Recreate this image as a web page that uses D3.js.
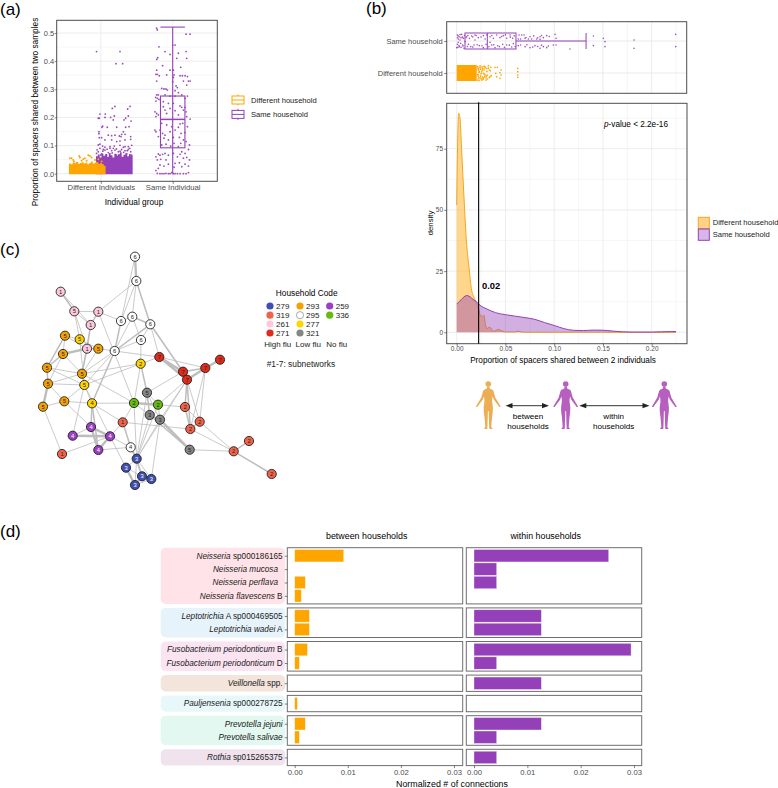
<!DOCTYPE html>
<html><head><meta charset="utf-8">
<style>
html,body{margin:0;padding:0;background:#fff}
svg{display:block;font-family:"Liberation Sans",Arial,sans-serif}
</style>
<script src="https://cdnjs.cloudflare.com/ajax/libs/d3/7.8.5/d3.min.js"></script>
</head><body><div id="c"></div>
<script>
// ---------- DATA ----------
const groupsA = ["Different Individuals","Same Individual"];
const householdNames = ["Different household","Same household"];
// panel (a): pairs of [horizontal jitter, proportion]
const sameIndividualPoints = [[-.223,.517],[-.214,.511],[.186,.496],[.242,.496],[0,.457],[.033,.457],[-.191,.451],[-.107,.434],[.079,.428],[.186,.434],[-.037,.424],[-.223,.406],[-.209,.412],[.056,.41],[.195,.41],[-.14,.384],[.112,.378],[.009,.368],[-.223,.368],[-.037,.368],[-.233,.353],[-.214,.353],[-.186,.348],[-.084,.351],[.019,.351],[.102,.348],[.135,.348],[.172,.348],[.205,.345],[.009,.342],[0,.327],[-.223,.329],[.149,.329],[.219,.329],[.242,.329],[.195,.315],[.047,.312],[.065,.306],[-.153,.303],[-.121,.301],[-.093,.301],[-.074,.297],[.033,.295],[.079,.288],[-.223,.28],[-.2,.28],[-.237,.271],[-.214,.268],[-.191,.264],[-.233,.258],[-.107,.28],[-.037,.276],[.033,.276],[.126,.28],[.172,.268],[.205,.276],[-.13,.256],[-.06,.25],[.009,.25],[.102,.241],[.126,.236],[.172,.236],[.149,.226],[.186,.22],[-.247,.22],[-.223,.214],[-.2,.209],[-.233,.203],[.195,.203],[-.13,.238],[-.107,.226],[-.084,.214],[-.037,.232],[.033,.224],[.079,.209],[.242,.194],[-.153,.179],[-.084,.173],[-.014,.167],[.102,.177],[.14,.179],[-.247,.155],[-.233,.149],[-.177,.155],[-.14,.143],[-.107,.137],[-.037,.149],[.033,.155],[.079,.165],[.116,.143],[.172,.146],[.205,.167],[-.2,.132],[-.121,.126],[-.06,.12],[.009,.129],[.093,.129],[.149,.12],[.186,.114],[.112,.108],[.233,.102],[-.153,.102],[-.093,.105],[-.028,.098],[.019,.108],[.079,.096],[.219,.086],[.126,.078],[.172,.072],[-.2,.07],[-.177,.066],[-.14,.069],[-.107,.072],[-.06,.066],[.009,.072],[.065,.06],[.102,.069],[-.233,.06],[-.214,.049],[-.167,.051],[-.093,.049],[.149,.055],[.195,.058],[.233,.049],[-.177,.031],[-.121,.027],[-.06,.034],[.033,.037],[.093,.039],[.126,.025],[.172,.034],[.219,.027],[-.2,.019],[.019,.023],[-.233,.011],[-.214,.001],[-.177,0],[-.149,0],[-.121,0],[-.093,.001],[-.06,0],[-.037,0],[-.014,.004],[.009,0],[.033,0],[.065,0],[.102,0],[.149,0],[.186,0],[.219,.004]];
const diffIndividualSameHouseholdPoints = [[-.247,.434],[.079,.434],[.023,.391],[.116,.391],[.009,.239],[-.028,.232],[.219,.239],[.186,.23],[-.2,.212],[-.126,.212],[-.223,.197],[-.209,.197],[-.13,.2],[-.051,.2],[0,.205],[-.014,.191],[.195,.205],[.158,.197],[.135,.191],[.233,.187],[-.163,.169],[-.098,.165],[-.172,.165],[.033,.165],[.158,.165],[.205,.167],[-.214,.149],[-.214,.142],[-.084,.137],[-.037,.135],[-.177,.128],[-.209,.128],[-.13,.12],[-.037,.12],[.033,.114],[.079,.116],[.102,.14],[.126,.149],[.149,.14],[.093,.132],[.228,.132],[.228,.122],[.149,.12],[.07,.134],[.009,.137],[-.2,.105],[-.163,.098],[-.223,.102],[-.13,.094],[-.06,.096],[0,.098],[.079,.101],[.149,.096],[.195,.096],[.242,.101],[-.2,.09],[-.014,.09],[-.223,.078],[-.177,.07],[-.13,.084],[-.084,.075],[-.037,.082],[.009,.084],[.056,.078],[.102,.086],[.149,.082],[.195,.086],[.228,.078],[-.247,.072],[-.191,.066],[-.107,.066],[.033,.066],[.172,.07],[.242,.066],[-.06,.09],[.126,.094],[-.153,.086],[-.24,.085],[-.16,.08],[-.1,.087],[-.03,.074],[.03,.088],[.08,.08],[.13,.076],[.18,.082],[.215,.09]];
const diffHouseholdPoints = [[-.242,.055],[-.219,.055],[-.195,.049],[-.112,.063],[-.102,.058],[-.056,.051],[-.033,.055],[.014,.066],[.037,.063],[.06,.058],[-.186,.043],[-.149,.039],[-.079,.046],[-.009,.046],[.107,.049],[.13,.039],[.153,.051],[.2,.043],[.214,.031]];
const diffHouseholdEnvelope = [.036,.034,.04,.037,.042,.035,.038,.041,.036,.04,.034,.038,.043,.036,.039,.041,.035,.038,.033,.028];
const diffIndSameHouseholdEnvelope = [.062,.068,.058,.072,.064,.07,.06,.074,.066,.058,.071,.063,.069,.076,.06,.067,.073,.062,.07,.064];
const sameIndividualBox = {q1:.092,median:.193,q3:.276,low:0,high:.521};
// panel (b) strip: pairs of [proportion, vertical jitter]
const sameHouseholdStrip = [[.0639,.1875],[.0667,.1875],[.0691,.1875],[.0752,.135],[.0769,.0625],[.0821,.0625],[.0855,.135],[.0889,.104],[.0923,.167],[.1009,.208],[.1019,.083],[.0632,.0625],[.0656,.0625],[.0701,.083],[.0735,.0625],[.0855,.052],[.0632,-.146],[.0656,-.125],[.0701,-.177],[.0752,-.208],[.0803,-.146],[.0855,-.229],[.0889,-.177],[.0923,-.208],[.0991,-.125],[.1019,-.125],[.1162,-.25],[.1402,.156],[.1402,-.146],[.1504,.083],[.1521,-.021],[.1521,-.177],[.1819,.031],[.1819,-.229],[.2246,.208],[.2246,-.177],[.0103,.135],[.013,.083],[.0154,.156],[.0188,.1875],[.0222,.104],[.0274,.167],[.0291,.0625],[.0342,.135],[.0376,.083],[.041,.1875],[.0444,.104],[.0479,.167],[.0513,.083],[.0547,.1875],[.0574,.083],[.012,-.104],[.0144,-.177],[.0178,-.125],[.0232,-.146],[.0274,-.208],[.0301,-.104],[.0359,-.125],[.0393,-.208],[.0438,-.177],[.0472,-.104],[.0513,-.125],[.0564,-.1875],[.0581,-.083],[.0007,.1875],[.0027,.135],[.0051,.208],[.0068,.083],[.0017,.0625],[.0044,.104],[.0007,-.104],[.0027,-.177],[.0062,-.125],[0,-.208],[.0075,-.229],[.0041,-.073],[.0017,-.042],[.0034,.031],[.0085,-.021],[.0188,.031],[.0342,-.042],[.0015,.16],[.0035,.2],[.006,.12],[.0008,.1],[.0024,-.14],[.0045,-.2],[.0065,-.16],[.0012,-.2],[.008,.17],[.0095,.1],[.0115,.17],[.0165,.125],[.02,.17],[.025,.125],[.031,.19],[.036,.17],[.046,.14],[.05,.19],[.055,.12],[.059,.16],[.011,-.17],[.0165,-.19],[.021,-.115],[.026,-.15],[.033,-.18],[.038,-.12],[.042,-.15],[.049,-.2],[.054,-.13],[.06,-.17],[.071,.11],[.079,.16],[.083,.1],[.087,.17],[.095,.14],[.072,-.12],[.078,-.19],[.083,-.17],[.087,-.13],[.094,-.16]];
const diffHouseholdStrip = [[.0178,.198],[.0198,.094],[.0222,-.0625],[.0239,.167],[.0256,.042],[.0274,-.167],[.0291,.198],[.0308,.146],[.0325,.229],[.0335,.094],[.0315,-.0625],[.0342,-.115],[.0301,-.219],[.0256,-.219],[.0212,-.219],[.0232,.042],[.0274,-.01],[.0239,-.146],[.0393,.177],[.0417,.177],[.04,-.01],[.0444,.01],[.0455,.094],[.041,-.115],[.0444,-.167],[.0455,-.0625],[.0626,.146],[.0626,.042],[.0626,-.0625],[.0626,-.135],[.0222,.125],[.0291,-.0625],[.0315,-.1875],[.0267,.146],[.0215,.2],[.022,.15],[.0225,.08],[.023,.02],[.0215,-.05],[.022,-.11],[.0225,-.17],[.023,-.23],[.024,.22],[.0245,.12],[.025,-.02],[.0245,-.09],[.025,-.18],[.026,.19],[.0265,.09],[.0265,-.13],[.027,-.2],[.028,.21],[.028,.1],[.0285,-.04],[.0285,-.12],[.029,.16],[.03,-.15],[.031,.05],[.0305,-.1],[.0325,.15],[.0335,-.14],[.035,.18],[.0345,.07],[.0355,-.08]];
const diffHouseholdStripSolidMax = .0205;
const sameHouseholdBox = {q1:.0085,median:.0314,q3:.0608,high:.1327};
const cutoffValue = .0225;
// panel (b) densities
const differentDensityX = [0,.001,.002,.0035,.005,.0075,.01,.0125,.015,.0175,.02,.0225,.024,.0265,.028,.0295,.031,.033,.035,.037,.04,.042,.045,.05,.06,.0625,.065,.07,.1,.15,.225];
const differentDensityY = [52,78,89.5,87,75,55,37,27,18,14.5,12.3,9.5,7,6.5,7,3,1.5,2,1.8,.4,.7,1.2,.8,.1,.1,.5,.2,0,0,0,0];
const sameDensityX = [0,.005,.01,.0125,.015,.02,.025,.03,.04,.05,.06,.07,.08,.09,.10,.11,.12,.13,.14,.15,.16,.17,.18,.19,.2,.21,.22,.225];
const sameDensityY = [11.5,13.5,15,14.8,14,12.5,10.7,9.7,8,7.2,6.6,6,5.3,4,2.8,1.5,.8,.7,.9,.85,.5,.2,.1,.1,.1,.2,.3,.3];
// panel (c) network, layout units
const householdCodes = ["279","319","261","271","293","295","277","321","259","336"];
const householdColors = ["#3F4FB0","#F0624A","#FFC8DC","#E02A1A","#F5A100","#FFFFFF","#FFD500","#868686","#9B3FC4","#66BB0F"];
const fluGroups = ["High flu","Low flu","No flu"];
const nodes = [
["w1","295","6",95,11.7],["w2","295","6",96.3,36],["w3","295","6",81,76],["w4","295","6",92.3,71.7],["w5","295","6",110.3,79.3],["w6","295","6",101,95],["w7","295","6",74.7,106],
["p1","261","1",20.7,46.7],["p2","261","5",34.3,66.3],["p3","261","1",58.3,66.7],["p4","261","1",50.7,80],["p5","261","1",47,103.7],
["o1","293","5",25,90.7],["o2","293","5",23,109],["o3","293","5",58.3,103.7],["o4","293","5",7,122.7],["o5","293","5",42,128.7],["o6","293","5",8,138.7],["o7","293","5",24.3,156.3],["o8","293","5",3,161.7],
["y1","277","5",39.7,94.3],["y2","277","2",100.7,118.7],["y3","277","5",44.3,140],["y4","277","4",52,158.3],
["r1","271","7",119.3,112],["r2","271","7",143,126.7],["r3","271","7",147,134.7],["r4","271","7",165.3,123],["r5","271","7",180,114.7],
["g1","321","5",107,147.7],["g2","321","3",109.7,170],["g3","321","3",120,174.7],["g4","321","5",149.7,204.7],
["v1","336","2",94,158],["v2","336","2",118,159.7],
["c1","319","2",145,162],["c2","319","2",159.7,176.7],["c3","319","2",150.3,184],["c4","319","2",209,196],["c5","319","2",193.7,206.3],["c6","319","2",231.7,229],["c7","319","1",82.7,177.3],["c8","319","1",22,209],
["u1","259","4",32.7,190.7],["u2","259","4",51,182],["u3","259","4",70,191.3],["u4","259","4",58.3,205],
["w8","295","4",90.7,202.3],
["b1","279","3",96.7,213.7],["b2","279","3",86,222.7],["b3","279","3",102,231.3],["b4","279","3",111.3,234],["b5","279","3",95,240]];
const links = [["w1","w2",3],["w1","w3",1],["w2","w3",1],["w2","w5",2],["w2","w4",1],["w2","p3",1],["w3","w4",1],["w4","w5",2],["w3","w7",2],["w3","p3",1],["w4","w7",1],["w5","w7",2],["w5","r1",1],["w6","w7",1],["w6","w4",1],["w6","y2",1],["w5","w6",1],["w7","o3",1],["w7","r1",1],["w7","o5",1],["w7","y4",2],["w7","y3",1],
["p1","p2",2],["p1","p4",1],["p2","p3",1],["p2","p4",1],["p2","p5",1],["p3","p4",2],["p4","p5",2],["p4","o5",1],["p5","o5",2],["p3","v1",1],["p5","o2",3],["p5","o1",1],["p2","y1",1],["o1","y1",1],["o1","o2",1],["o1","o4",2],["o2","o4",2],["o2","o5",1],["o2","o6",1],["o4","o6",2],["o4","o5",1],["o5","o6",1],["o6","o8",3],["o6","o7",1],["o7","o8",1],["o6","y3",1],["o5","y3",2],["y3","o7",1],["y3","y4",1],["o4","y3",1],["o7","y4",1],["o3","y1",1],["o3","p5",2],["o3","o5",1],["o5","y2",1],["y3","y2",1],["o8","c8",1],["o7","u2",1],["y3","u3",1],["y1","y3",1],["y3","u1",1],["y4","u2",2],["y4","u4",2],["u1","u2",1],["u1","u3",3],["u2","u3",3],["u2","u4",3],["u3","u4",3],["c8","u3",1],["u3","w8",1],["u3","c7",1],["u4","w8",1],["u3","b2",1],["w8","b1",2],["c7","w8",2],["c7","v1",1],["c7","c3",1],["o5","v1",1],["y2","g1",2],["y2","v1",1],
["r1","r2",3],["r1","r3",3],["r2","r4",2],["r3","r4",3],["r2","r3",2],["r4","r5",3],["r1","r4",1],["r3","c1",2],["r3","c3",2],["r3","c2",1],["r4","c2",1],["c1","c2",1],["c1","c3",2],["c2","c3",2],["c2","c5",1],["c3","c5",1],["c4","c5",2],["c5","c6",2],["g4","c5",1],["g3","g4",3],["g2","g4",2],["g1","g2",2],["g1","g3",1],["g2","g3",2],["g1","v2",1],["v1","v2",3],["v1","g2",1],["v2","g3",1],["v1","b1",1],["v2","b1",1],["v2","c1",1],["r3","v2",1],["r3","g3",1],["r2","g1",1],["r3","b1",1],["g3","b1",1],["g3","b4",1],["g2","b1",1],["g1","b1",1],["y4","v1",1],["y4","c7",1],["w5","r2",2],["r1","y2",1],["b1","b2",1],["b1","b3",2],["b1","b4",1],["b2","b3",1],["b2","b5",3],["b3","b4",2],["b3","b5",2],["b4","b5",1],["b1","b5",1],["w8","b3",1],["r4","c3",1]];
// panel (d)
const speciesItalic = ["Neisseria","Neisseria mucosa","Neisseria perflava","Neisseria flavescens","Leptotrichia","Leptotrichia wadei","Fusobacterium periodonticum","Fusobacterium periodonticum","Veillonella","Pauljensenia","Prevotella jejuni","Prevotella salivae","Rothia"];
const speciesPlain = [" sp000186165","\u00a0\u00a0"," \u00a0"," B"," A sp000469505"," A"," B"," D"," spp."," sp000278725","","", " sp015265375"];
const speciesFacet = [0,0,0,0,1,1,2,2,3,4,5,5,6];
const betweenValues = [.00923,0,.002,.00125,.00276,.00276,.0024,.00088,0,.0005,.002,.00088,0];
const withinValues = [.02525,.00425,.00425,0,.01263,.01263,.02945,.00425,.01263,0,.01263,.00425,.00425];
const facetColors = ["#FFE3E8","#E6F3FB","#FBE4F2","#F3E4DC","#E8F8FA","#E2F8F0","#F0E3EE"];

// ---------- HELPERS ----------
const ORANGE="#FFA500", PURPLE="#9440B8";
const W=778,H=788;
const svg=d3.select("#c").append("svg").attr("width",W).attr("height",H).attr("viewBox",`0 0 ${W} ${H}`);
function styleAxis(g,size=7){
  g.selectAll(".domain").remove();
  g.selectAll("line").attr("stroke","#333").attr("stroke-width",.6);
  g.selectAll("text").attr("fill","#4d4d4d").style("font-size",size+"px").style("font-family","inherit");
}
function text(x,y,s,o={}){
  const t=svg.append("text").attr("x",x).attr("y",y).text(s).attr("font-size",o.size||8).attr("fill",o.fill||"#000");
  if(o.anchor)t.attr("text-anchor",o.anchor);
  if(o.weight)t.attr("font-weight",o.weight);
  if(o.rotate!=null)t.attr("transform",`rotate(${o.rotate} ${x} ${y})`);
  return t;
}
function grid(g,x0,x1,y0,y1,xs,ys,color,w){
  xs.forEach(v=>g.append("line").attr("x1",v).attr("x2",v).attr("y1",y0).attr("y2",y1).attr("stroke",color).attr("stroke-width",w));
  ys.forEach(v=>g.append("line").attr("y1",v).attr("y2",v).attr("x1",x0).attr("x2",x1).attr("stroke",color).attr("stroke-width",w));
}
function frame(x0,x1,y0,y1,c="#4d4d4d",w=1){
  svg.append("rect").attr("x",x0).attr("y",y0).attr("width",x1-x0).attr("height",y1-y0).attr("fill","none").attr("stroke",c).attr("stroke-width",w);
}
function dots(g,data,xf,yf,color,r=.9,op=.95){
  g.selectAll(null).data(data).join("circle").attr("cx",xf).attr("cy",yf).attr("r",r).attr("fill",color).attr("opacity",op);
}
function boxGlyph(g,x,yc,hw,hh,color){
  g.append("rect").attr("x",x).attr("y",yc-hh).attr("width",hw).attr("height",2*hh).attr("fill","#fff").attr("stroke",color).attr("stroke-width",1);
  g.append("line").attr("x1",x).attr("x2",x+hw).attr("y1",yc).attr("y2",yc).attr("stroke",color).attr("stroke-width",1);
  g.append("line").attr("x1",x+hw/2).attr("x2",x+hw/2).attr("y1",yc-hh-1.5).attr("y2",yc-hh).attr("stroke",color).attr("stroke-width",1);
  g.append("line").attr("x1",x+hw/2).attr("x2",x+hw/2).attr("y1",yc+hh).attr("y2",yc+hh+1.5).attr("stroke",color).attr("stroke-width",1);
}

// ---------- PANEL LABELS ----------
text(0,15,"(a)",{size:17});
text(366,14,"(b)",{size:17});
text(0,255,"(c)",{size:17});
text(0,537,"(d)",{size:17});

// ---------- PANEL A ----------
(function(){
  const L=56.7,R=217.3,T=20.3,B=181.3;
  const x=d3.scaleLinear().domain([1,2]).range([100.8,172.7]);
  const y=d3.scaleLinear().domain([0,.5]).range([173.7,33]);
  const g=svg.append("g");
  grid(g,L,R,T,B,[],d3.range(.05,.55,.1).map(y),"#f2f2f2",.6);
  grid(g,L,R,T,B,[1,2].map(x),[0,.1,.2,.3,.4,.5].map(y),"#e8e8e8",.8);
  const dodge=.188, half=.255;
  const binX=(center)=>d3.scaleLinear().domain([0,20]).range([center-half,center+half]);
  const area=(env,c)=>{
    const bx=binX(c);
    const extended=env.concat([env[env.length-1]]);
    return d3.area().curve(d3.curveStepAfter).x((d,i)=>x(bx(i))).y0(y(-.002)).y1(d=>y(d))(extended);
  };
  g.append("path").attr("d",area(diffIndSameHouseholdEnvelope,1+dodge)).attr("fill",PURPLE);
  dots(g,diffIndividualSameHouseholdPoints,d=>x(1+dodge+d[0]),d=>y(d[1]),PURPLE);
  g.append("path").attr("d",area(diffHouseholdEnvelope,1-dodge)).attr("fill",ORANGE);
  dots(g,diffHouseholdPoints,d=>x(1-dodge+d[0]),d=>y(d[1]),ORANGE,1,1);
  dots(g,sameIndividualPoints,d=>x(2+d[0]),d=>y(d[1]),PURPLE);
  const b=sameIndividualBox, hw=.17, c=PURPLE;
  const bg=g.append("g").attr("stroke",c).attr("stroke-width",1.1).attr("fill","none");
  bg.append("rect").attr("x",x(2-hw)).attr("width",x(2+hw)-x(2-hw)).attr("y",y(b.q3)).attr("height",y(b.q1)-y(b.q3));
  bg.append("line").attr("x1",x(2-hw)).attr("x2",x(2+hw)).attr("y1",y(b.median)).attr("y2",y(b.median)).attr("stroke-width",1.5);
  bg.append("line").attr("x1",x(2)).attr("x2",x(2)).attr("y1",y(b.high)).attr("y2",y(b.low));
  bg.append("line").attr("x1",x(2-hw)).attr("x2",x(2+hw)).attr("y1",y(b.high)).attr("y2",y(b.high));
  frame(L,R,T,B);
  const ay=svg.append("g").attr("transform",`translate(${L},0)`).call(d3.axisLeft(y).tickValues([0,.1,.2,.3,.4,.5]).tickFormat(d3.format(".1f")).tickSize(2).tickPadding(.5));
  styleAxis(ay,7.5);
  const ax=svg.append("g").attr("transform",`translate(0,${B})`).call(d3.axisBottom(x).tickValues([1,2]).tickFormat(d=>groupsA[d-1]).tickSize(2.5).tickPadding(.8));
  styleAxis(ax,7.7);
  text(134,204.5,"Individual group",{anchor:"middle",size:8.3});
  text(37.5,112,"Proportion of spacers shared between two samples",{anchor:"middle",size:8.3,rotate:-90});
  boxGlyph(svg,232,100,12,4,ORANGE);
  boxGlyph(svg,232,114.4,12,4,PURPLE);
  text(251,102.7,householdNames[0],{size:7.6,fill:"#222"});
  text(251,117,householdNames[1],{size:7.6,fill:"#222"});
})();

// ---------- PANEL B ----------
const xB=d3.scaleLinear().domain([0,.2]).range([456.7,651.7]);
(function(){
  const L=446.7,R=686.7,T=21.7,B=93.3;
  const y=d3.scaleLinear().domain([0,1]).range([73,41]); // 0 different, 1 same
  const g=svg.append("g");
  const minor=[.025,.075,.125,.175,.225].map(xB), major=[0,.05,.1,.15,.2].map(xB);
  grid(g,L,R,T,B,minor,[],"#efefef",.7);
  grid(g,L,R,T,B,major,[0,1].map(y),"#e6e6e6",.8);
  g.append("rect").attr("x",xB(0)).attr("width",xB(diffHouseholdStripSolidMax)-xB(0)).attr("y",y(.25)).attr("height",y(-.25)-y(.25)).attr("fill",ORANGE);
  dots(g,diffHouseholdStrip,d=>xB(d[0]),d=>y(0+d[1]),ORANGE,.85,1);
  dots(g,sameHouseholdStrip,d=>xB(d[0]),d=>y(1+d[1]),PURPLE,.8,.9);
  const b=sameHouseholdBox, h=.25;
  const bg=g.append("g").attr("stroke",PURPLE).attr("stroke-width",1).attr("fill","none");
  bg.append("rect").attr("x",xB(b.q1)).attr("width",xB(b.q3)-xB(b.q1)).attr("y",y(1+h)).attr("height",y(1-h)-y(1+h));
  bg.append("line").attr("x1",xB(b.median)).attr("x2",xB(b.median)).attr("y1",y(1+h)).attr("y2",y(1-h));
  bg.append("line").attr("x1",xB(b.q3)).attr("x2",xB(b.high)).attr("y1",y(1)).attr("y2",y(1));
  bg.append("line").attr("x1",xB(b.high)).attr("x2",xB(b.high)).attr("y1",y(1+h)).attr("y2",y(1-h));
  frame(L,R,T,B);
  const ay=svg.append("g").attr("transform",`translate(${L},0)`).call(d3.axisLeft(y).tickValues([0,1]).tickFormat(d=>householdNames[d]).tickSize(2.5).tickPadding(1.5));
  styleAxis(ay,7.5);
})();
(function(){
  const L=446.7,R=687,T=103.3,B=343.7;
  const y=d3.scaleLinear().domain([0,75]).range([332.3,148.7]);
  const g=svg.append("g");
  grid(g,L,R,T,B,[.025,.075,.125,.175,.225].map(xB),[12.5,37.5,62.5,87.5].map(y),"#f2f2f2",.7);
  grid(g,L,R,T,B,[0,.05,.1,.15,.2].map(xB),[0,25,50,75].map(y),"#e8e8e8",.8);
  const area=(xs,ys)=>d3.area().curve(d3.curveMonotoneX).x((d,i)=>xB(xs[i])).y0(y(0)).y1(d=>y(d))(ys);
  const line=(xs,ys)=>d3.line().curve(d3.curveMonotoneX).x((d,i)=>xB(xs[i])).y(d=>y(d))(ys);
  g.append("path").attr("d",area(differentDensityX,differentDensityY)).attr("fill","#FFAE1A").attr("fill-opacity",.5);
  g.append("path").attr("d",line(differentDensityX,differentDensityY)).attr("fill","none").attr("stroke","#F2A71B").attr("stroke-width",1);
  g.append("path").attr("d",area(sameDensityX,sameDensityY)).attr("fill",PURPLE).attr("fill-opacity",.42);
  g.append("path").attr("d",line(sameDensityX,sameDensityY)).attr("fill","none").attr("stroke",PURPLE).attr("stroke-width",1);
  frame(L,R,T,B);
  svg.append("line").attr("x1",xB(cutoffValue)).attr("x2",xB(cutoffValue)).attr("y1",T-1).attr("y2",B).attr("stroke","#000").attr("stroke-width",1.1);
  const ay=svg.append("g").attr("transform",`translate(${L},0)`).call(d3.axisLeft(y).tickValues([0,25,50,75]).tickSize(2.5).tickPadding(1.2));
  styleAxis(ay,6.5);
  const ax=svg.append("g").attr("transform",`translate(0,${B})`).call(d3.axisBottom(xB).tickValues([0,.05,.1,.15,.2]).tickFormat(d3.format(".2f")).tickSize(2.5).tickPadding(.5));
  styleAxis(ax,6.5);
  text(563,362.5,"Proportion of spacers shared between 2 individuals",{anchor:"middle",size:8.2});
  text(433,223,"density",{anchor:"middle",size:7.8,rotate:-90});
  text(482,289,"0.02",{size:9.4,weight:"bold"});
  const p=text(604,126.5,"",{size:8.2});
  p.append("tspan").attr("font-style","italic").text("p");
  p.append("tspan").text("-value < 2.2e-16");
  svg.append("rect").attr("x",698.3).attr("y",217.3).attr("width",11).attr("height",11.3).attr("fill","#FFD28A").attr("stroke","#F2A71B").attr("stroke-width",1);
  svg.append("rect").attr("x",698.3).attr("y",229).attr("width",11).attr("height",11.3).attr("fill","#D8B6EA").attr("stroke",PURPLE).attr("stroke-width",1);
  text(712.7,224.8,householdNames[0],{size:7.6,fill:"#222"});
  text(712.7,236.8,householdNames[1],{size:7.6,fill:"#222"});
  const body="M-1.2,5.5 L1.2,5.5 L1.4,7.5 C3,8.3 4.6,8.4 5.2,10 L7,16.5 L11.5,24 L12.5,26 L11,26 L5.5,18.5 L4.4,15.5 C3.8,18 3.6,20 4.2,23 C5,27 4.6,31 3.8,36 L3,46 L4.4,48 L1,48 L0.8,44 L0.4,30 L-0.4,30 L-0.8,44 L-1,48 L-4.4,48 L-3,46 L-3.8,36 C-4.6,31 -5,27 -4.2,23 C-3.6,20 -3.8,18 -4.4,15.5 L-5.5,18.5 L-11,26 L-12.5,26 L-11.5,24 L-7,16.5 L-5.2,10 C-4.6,8.4 -3,8.3 -1.4,7.5 Z";
  [[488.3,"#EBAE55"],[565.7,"#B65FBF"],[664.3,"#B65FBF"]].forEach(([cx,col])=>{
    const f=svg.append("g").attr("transform",`translate(${cx},381)`).attr("fill",col);
    f.append("circle").attr("cx",0).attr("cy",3).attr("r",2.8);
    f.append("path").attr("d",body);
  });
  const arrow=(x1,x2,yy)=>{
    svg.append("line").attr("x1",x1+3).attr("x2",x2-3).attr("y1",yy).attr("y2",yy).attr("stroke","#333").attr("stroke-width",1);
    svg.append("path").attr("d",`M${x1},${yy} L${x1+7},${yy-2.6} L${x1+7},${yy+2.6} Z`).attr("fill","#222");
    svg.append("path").attr("d",`M${x2},${yy} L${x2-7},${yy-2.6} L${x2-7},${yy+2.6} Z`).attr("fill","#222");
  };
  arrow(505.5,549,405.7); arrow(579.3,649.5,405.7);
  text(528,419,"between",{anchor:"middle",size:8.1});
  text(528,429.3,"households",{anchor:"middle",size:8.1});
  text(613.7,419,"within",{anchor:"middle",size:8.1});
  text(613.7,429.3,"households",{anchor:"middle",size:8.1});
})();

// ---------- PANEL C ----------
(function(){
  const lx=d3.scaleLinear().domain([0,240]).range([40,280]);
  const ly=d3.scaleLinear().domain([0,240]).range([245,485]);
  const color=d3.scaleOrdinal(householdCodes,householdColors);
  const byId=new Map(nodes.map(n=>[n[0],n]));
  const g=svg.append("g");
  g.selectAll("line.e").data(links).join("line").attr("class","e")
    .attr("x1",d=>lx(byId.get(d[0])[3])).attr("y1",d=>ly(byId.get(d[0])[4]))
    .attr("x2",d=>lx(byId.get(d[1])[3])).attr("y2",d=>ly(byId.get(d[1])[4]))
    .attr("stroke","#BDBDBD").attr("stroke-width",d=>[0,.8,1.5,2.4][d[2]]);
  const ng=g.selectAll("g.n").data(nodes).join("g").attr("class","n").attr("transform",d=>`translate(${lx(d[3])},${ly(d[4])})`);
  ng.append("circle").attr("r",4.6).attr("fill",d=>color(d[1])).attr("stroke","#1a1a1a").attr("stroke-width",.85);
  ng.append("text").attr("text-anchor","middle").attr("y",2.1).attr("font-size",5.8)
    .attr("fill",d=>(d[1]==="279"||d[1]==="259")?"#fff":"#222").text(d=>d[2]);
  text(306.7,295.5,"Household Code",{anchor:"middle",size:8.3});
  const colX=[270,300,329.7], rows=[306,315.2,324,333];
  const layout=[["279","319","261","271"],["293","295","277","321"],["259","336"]];
  layout.forEach((col,i)=>col.forEach((code,j)=>{
    const c=svg.append("circle").attr("cx",colX[i]).attr("cy",rows[j]).attr("r",3.6).attr("fill",color(code));
    if(code==="295")c.attr("stroke","#777").attr("stroke-width",.6);
    text(colX[i]+6,rows[j]+2.8,code,{size:8,fill:"#222"});
  }));
  const fx=[277.7,308.3,336.7];
  fluGroups.forEach((s,i)=>text(fx[i],347,s,{anchor:"middle",size:8,fill:"#222"}));
  text(266.7,367,"#1-7: subnetworks",{size:8.4,fill:"#222"});
})();

// ---------- PANEL D ----------
(function(){
  const panels=[
    {L:287.3,R:462.7,x:d3.scaleLinear().domain([0,.03]).range([294.7,454]),vals:betweenValues,col:ORANGE},
    {L:466.3,R:641.7,x:d3.scaleLinear().domain([0,.03]).range([474,634]),vals:withinValues,col:PURPLE}];
  const facetIds=[...new Set(speciesFacet)];
  let cursor=547.7; const facets=[];
  facetIds.forEach(f=>{
    const idx=d3.range(speciesFacet.length).filter(i=>speciesFacet[i]===f);
    const h=idx.length*13.3+3;
    const y=d3.scalePoint().domain(idx).range([cursor,cursor+h]).padding(.6);
    facets.push({f,idx,top:cursor,bottom:cursor+h,y});
    cursor+=h+4;
  });
  facets.forEach(F=>{
    svg.append("rect").attr("x",160.7).attr("width",124.5).attr("y",F.top).attr("height",F.bottom-F.top).attr("rx",5).attr("fill",facetColors[F.f]);
    panels.forEach(P=>{
      const g=svg.append("g");
      g.selectAll("rect").data(F.idx.filter(i=>P.vals[i]>0)).join("rect")
        .attr("x",P.x(0)).attr("width",i=>P.x(P.vals[i])-P.x(0))
        .attr("y",i=>F.y(i)-6.2).attr("height",12.4)
        .attr("fill",P.col).attr("stroke","#fff").attr("stroke-opacity",.55).attr("stroke-width",.6);
      frame(P.L,P.R,F.top,F.bottom,"#6e6e6e",1);
    });
    const ay=svg.append("g").attr("transform",`translate(${panels[0].L},0)`).call(d3.axisLeft(F.y).tickFormat("").tickSize(2.5));
    ay.selectAll(".domain").remove(); ay.selectAll("line").attr("stroke","#333").attr("stroke-width",.6);
    F.idx.forEach(i=>{
      const t=svg.append("text").attr("x",282.6).attr("y",F.y(i)+2.8).attr("text-anchor","end").attr("font-size",8.2).attr("fill","#1a1a1a").attr("xml:space","preserve").style("white-space","pre");
      t.append("tspan").attr("font-style","italic").text(speciesItalic[i]);
      if(speciesPlain[i])t.append("tspan").text(speciesPlain[i]);
    });
  });
  panels.forEach(P=>{
    const ax=svg.append("g").attr("transform",`translate(0,${cursor-4})`).call(d3.axisBottom(P.x).tickValues([0,.01,.02,.03]).tickFormat(d3.format(".2f")).tickSize(2.5).tickPadding(1));
    styleAxis(ax,7.7);
  });
  text(366.7,539,"between households",{anchor:"middle",size:8.9});
  text(545.7,539,"within households",{anchor:"middle",size:8.9});
  text(452,787,"Normalized # of connections",{anchor:"middle",size:8.9});
})();
</script></body></html>
